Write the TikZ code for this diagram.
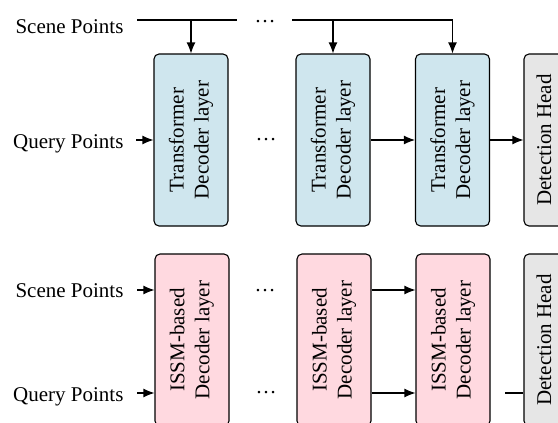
\documentclass[tikz,border=0pt]{standalone}
\usepackage{fontspec}
\setmainfont{Liberation Serif}
\usetikzlibrary{arrows.meta}
\definecolor{tfblue}{RGB}{207,230,238}
\definecolor{ssmpink}{RGB}{255,217,224}
\definecolor{headgray}{RGB}{230,230,230}
\newcommand{\boxtext}[2]{\rotatebox{90}{\begin{tabular}{@{}c@{}}#1\\#2\end{tabular}}}
\begin{document}
\begin{tikzpicture}[x=1pt, y=-1pt, line width=1.1pt,
    font=\fontsize{21}{25}\selectfont,
    layerbox/.style={draw, rounded corners=5pt, minimum width=74pt, minimum height=172pt, inner sep=0pt},
    tflayer/.style={layerbox, fill=tfblue},
    ssmlayer/.style={layerbox, fill=ssmpink},
    headbox/.style={layerbox, fill=headgray, minimum width=40pt},
    inlabel/.style={anchor=base east, inner sep=0pt},
    skipdots/.style={inner sep=0pt},
    arr/.style={-{Latex[length=11pt, width=9pt]}}]
    \useasboundingbox (0, 0) rectangle (558, 423) ;
    \clip (0, 0) rectangle (558, 423) ;
    % transformer decoder
    \node[tflayer] (t1) at (191, 140) {\boxtext{Transformer}{Decoder layer}} ;
    \node[tflayer] (t2) at (333, 140) {\boxtext{Transformer}{Decoder layer}} ;
    \node[tflayer] (t3) at (452.5, 140) {\boxtext{Transformer}{Decoder layer}} ;
    \node[headbox] (head1) at (544, 140) {\rotatebox{90}{Detection Head}} ;
    \node[inlabel] (scene1) at (124, 33) {Scene Points} ;
    \node[inlabel] (query1) at (124, 148) {Query Points} ;
    \node[skipdots] (dots1) at (265, 22) {\dots} ;
    \node[skipdots] (dots2) at (266, 140) {\dots} ;
    \coordinate (bus1a) at (137, 20) ;
    \coordinate (bus1b) at (237, 20) ;
    \coordinate (bus2a) at (292, 20) ;
    \draw (bus1a) -- (bus1b) ;
    \draw[arr] (t1.north |- bus1a) -- (t1.north) ;
    \draw[arr] (bus2a) -| (t3.north) ;
    \draw[arr] (t2.north |- bus2a) -- (t2.north) ;
    \draw[arr] ([xshift=-17pt]t1.west) -- (t1.west) ;
    \draw[arr] (t2.east) -- (t3.west) ;
    \draw[arr] (t3.east) -- (head1.west) ;
    % ISSM-based decoder
    \node[ssmlayer] (s1) at (192, 340) {\boxtext{ISSM-based}{Decoder layer}} ;
    \node[ssmlayer] (s2) at (334, 340) {\boxtext{ISSM-based}{Decoder layer}} ;
    \node[ssmlayer] (s3) at (453, 340) {\boxtext{ISSM-based}{Decoder layer}} ;
    \node[headbox] (head2) at (544, 340) {\rotatebox{90}{Detection Head}} ;
    \node[inlabel] (scene2) at (124, 297) {Scene Points} ;
    \node[inlabel] (query2) at (124, 401) {Query Points} ;
    \node[skipdots] (dots3) at (265, 291) {\dots} ;
    \node[skipdots] (dots4) at (266, 393) {\dots} ;
    \coordinate (in3) at (137, 290) ;
    \coordinate (in4) at (137, 393) ;
    \draw[arr] (in3) -- (in3 -| s1.west) ;
    \draw[arr] (in4) -- (in4 -| s1.west) ;
    \draw[arr] (s2.east |- in3) -- (s3.west |- in3) ;
    \draw[arr] (s2.east |- in4) -- (s3.west |- in4) ;
    \draw ([xshift=-18pt]head2.west |- in4) -- (head2.west |- in4) ;
\end{tikzpicture}
\end{document}
